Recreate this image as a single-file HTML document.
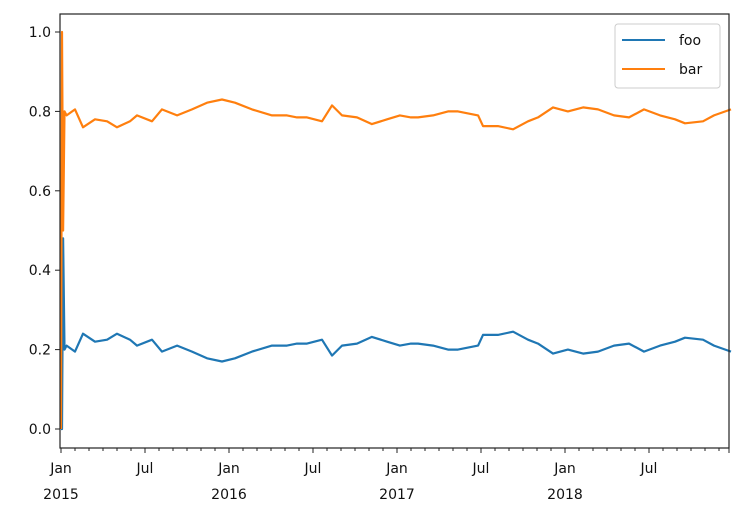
<!DOCTYPE html>
<html><head><meta charset="utf-8"><style>
body{margin:0;background:#fff}
svg{display:block;font-family:"DejaVu Sans","Liberation Sans",sans-serif}
</style></head><body>
<svg id="chart" width="744" height="518" viewBox="0 0 744 518" xmlns="http://www.w3.org/2000/svg">
<g id="grid"></g>
</svg>
<script>
// months since Jan 2015
const months = [0,0.07,0.15,0.25,0.4,1.0,1.57,2.43,3.29,4.0,4.93,5.43,6.5,7.21,8.29,9.36,10.43,11.5,12.43,13.64,15.07,16.14,16.86,17.57,18.64,19.36,20.07,21.14,22.21,23.29,24.21,25.0,25.5,26.57,27.64,28.36,29.79,30.14,31.21,32.29,33.36,34.07,35.14,36.21,37.29,38.36,39.5,40.57,41.64,42.79,43.86,44.57,45.86,46.64,47.86];
const fooValues = [0,0,0.48,0.2,0.21,0.195,0.24,0.22,0.225,0.24,0.225,0.21,0.225,0.195,0.21,0.195,0.178,0.17,0.178,0.195,0.21,0.21,0.215,0.215,0.225,0.185,0.21,0.215,0.232,0.22,0.21,0.215,0.215,0.21,0.2,0.2,0.21,0.237,0.237,0.245,0.225,0.215,0.19,0.2,0.19,0.195,0.21,0.215,0.195,0.21,0.22,0.23,0.225,0.21,0.195];
const barValues = [0,1.0,0.5,0.8,0.79,0.805,0.76,0.78,0.775,0.76,0.775,0.79,0.775,0.805,0.79,0.805,0.822,0.83,0.822,0.805,0.79,0.79,0.785,0.785,0.775,0.815,0.79,0.785,0.768,0.78,0.79,0.785,0.785,0.79,0.8,0.8,0.79,0.763,0.763,0.755,0.775,0.785,0.81,0.8,0.81,0.805,0.79,0.785,0.805,0.79,0.78,0.77,0.775,0.79,0.805];
const yTicks = [0.0,0.2,0.4,0.6,0.8,1.0];
const xMajorLabels = [["Jan","2015"],["Jul",""],["Jan","2016"],["Jul",""],["Jan","2017"],["Jul",""],["Jan","2018"],["Jul",""]];

const L=60,R=729,T=14,B=448;
const X=m=>61+m*14;
const Y=v=>429-v*397;
const svg=document.getElementById('chart');
const NS='http://www.w3.org/2000/svg';
function mk(tag,attrs,parent){const e=document.createElementNS(NS,tag);for(const k in attrs)e.setAttribute(k,attrs[k]);(parent||svg).appendChild(e);return e;}

function series(vals,color,name){
  const d=months.map((m,i)=>(i?'L':'M')+X(m).toFixed(1)+','+Y(vals[i]).toFixed(1)).join('');
  const p=mk('path',{d:d,fill:'none',stroke:color,'stroke-width':2.2,'stroke-linejoin':'round'});
  
  
}
series(fooValues,'#1f77b4','foo-line');
series(barValues,'#ff7f0e','bar-line');

const frame=mk('rect',{x:L,y:T,width:R-L,height:B-T,fill:'none',stroke:'#222','stroke-width':1.2});



yTicks.forEach(v=>{
  mk('line',{x1:L-5,x2:L,y1:Y(v),y2:Y(v),stroke:'#222','stroke-width':1});
  const t=mk('text',{x:L-9,y:Y(v)+5,'text-anchor':'end','font-size':14,fill:'#111'});
  t.textContent=v.toFixed(1);
  
  
});
for(let m=0;m<48;m++){
  const major=m%6===0;
  mk('line',{x1:X(m),x2:X(m),y1:B,y2:B+(major?5:3),stroke:'#222','stroke-width':1});
  if(major&&m/6<xMajorLabels.length){
    const lab=xMajorLabels[m/6];
    const t=mk('text',{x:X(m),y:473,'text-anchor':'middle','font-size':14,fill:'#111'});
    t.textContent=lab[0];
    
    
    if(lab[1]){
      const t2=mk('text',{x:X(m),y:499,'text-anchor':'middle','font-size':14,fill:'#111'});
      t2.textContent=lab[1];
      
      
    }
  }
}
mk('line',{x1:R,x2:R,y1:B,y2:B+5,stroke:'#222','stroke-width':1});
const lg=mk('g',{});


mk('rect',{x:615,y:24,width:105,height:64,rx:3,fill:'#fff',stroke:'#ccc','stroke-width':1},lg);
[['foo','#1f77b4',40],['bar','#ff7f0e',69]].forEach(([n,c,y])=>{
  mk('line',{x1:622,x2:665,y1:y,y2:y,stroke:c,'stroke-width':2},lg);
  const t=mk('text',{x:679,y:y+5,'font-size':14,fill:'#111'},lg);
  t.textContent=n;
  
  
});
</script>
</body></html>
